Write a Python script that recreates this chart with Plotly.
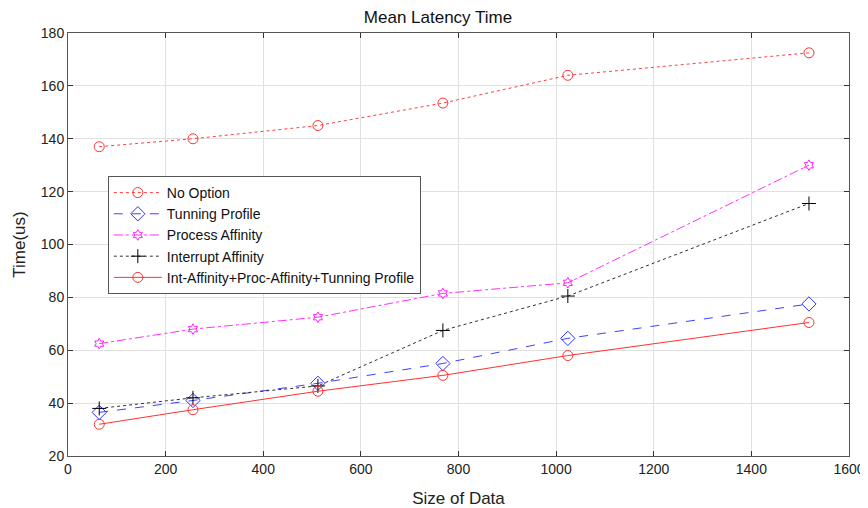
import plotly.graph_objects as go

sizes = [64, 256, 512, 768, 1024, 1518]
no_option = [137, 140, 145, 153.5, 164, 172.5]
tuning_profile = [36.5, 41, 47.5, 55, 64.5, 77.5]
process_affinity = [62.5, 68, 72.5, 81.5, 85.5, 130]
interrupt_affinity = [38, 42, 46.5, 67.5, 80.5, 115.5]
combined = [32, 37.5, 44.5, 50.5, 58, 70.5]

x_ticks = [0, 200, 400, 600, 800, 1000, 1200, 1400, 1600]
y_ticks = [20, 40, 60, 80, 100, 120, 140, 160, 180]

FONT = "Liberation Sans, Arial"

fig = go.Figure()
fig.add_trace(go.Scatter(x=sizes, y=no_option, name="No Option", mode="lines+markers",
                         line=dict(color="#FF4040", dash="dot", width=1),
                         marker=dict(symbol="circle-open", size=10, color="#FF3030", line=dict(width=1))))
fig.add_trace(go.Scatter(x=sizes, y=tuning_profile, name="Tunning Profile", mode="lines+markers",
                         line=dict(color="#4040FF", dash="dash", width=1),
                         marker=dict(symbol="diamond-open", size=11, color="#3030FF", line=dict(width=1))))
fig.add_trace(go.Scatter(x=sizes, y=process_affinity, name="Process Affinity", mode="lines+markers",
                         line=dict(color="#FF30FF", dash="dashdot", width=1),
                         marker=dict(symbol="hexagram-open", size=8, color="#FF20FF", line=dict(width=1))))
fig.add_trace(go.Scatter(x=sizes, y=interrupt_affinity, name="Interrupt Affinity", mode="lines+markers",
                         line=dict(color="#303030", dash="dot", width=1),
                         marker=dict(symbol="cross-thin-open", size=10, color="#000000", line=dict(width=1))))
fig.add_trace(go.Scatter(x=sizes, y=combined, name="Int-Affinity+Proc-Affinity+Tunning Profile", mode="lines+markers",
                         line=dict(color="#FF3030", dash="solid", width=1),
                         marker=dict(symbol="circle-open", size=10, color="#FF3030", line=dict(width=1))))

axis_common = dict(showgrid=True, gridcolor="#E0E0E0", gridwidth=1, zeroline=False,
                   showline=True, linecolor="#555555", linewidth=1, mirror="ticks",
                   ticks="inside", ticklen=5, tickcolor="#333333", automargin=False,
                   tickfont=dict(family=FONT, size=14, color="#222222"))

# page body has an 8px margin; figure sized to fill the rest of the 868x508 window
fig.update_layout(
    width=860, height=500,
    paper_bgcolor="white", plot_bgcolor="white",
    margin=dict(l=60, r=19, t=25, b=52),
    title=dict(text="Mean Latency Time", x=0.5, xanchor="center", y=0.982, yanchor="middle",
               font=dict(family=FONT, size=17, color="#111111")),
    xaxis=dict(range=[0, 1600], tickvals=x_ticks,
               title=dict(text="Size of Data", font=dict(family=FONT, size=17, color="#222222"), standoff=20),
               **axis_common),
    yaxis=dict(range=[20, 180], tickvals=y_ticks,
               title=dict(text="Time(us)", font=dict(family=FONT, size=17, color="#222222"), standoff=10),
               **axis_common),
    legend=dict(x=0.051, y=0.662, xanchor="left", yanchor="top",
                bgcolor="white", bordercolor="#555555", borderwidth=1,
                font=dict(family=FONT, size=14, color="#111111"),
                tracegroupgap=0, itemwidth=48),
    showlegend=True,
)

fig.write_html("out.html")
